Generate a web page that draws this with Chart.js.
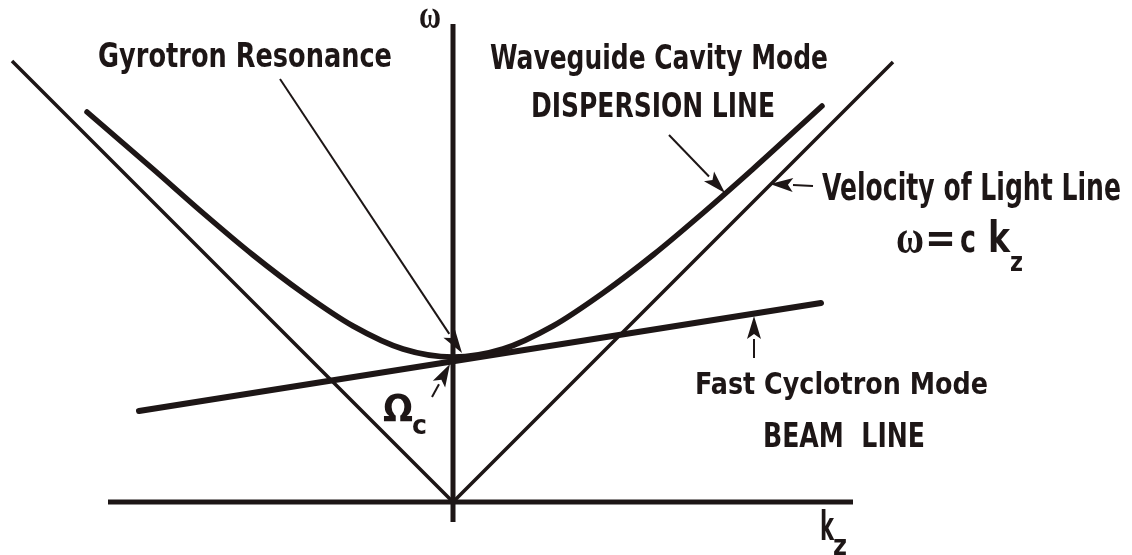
<!DOCTYPE html>
<html>
<head>
<meta charset="utf-8">
<script src="https://cdn.jsdelivr.net/npm/chart.js@4.4.1/dist/chart.umd.min.js"></script>
<style>
html,body{margin:0;padding:0;background:#fff;}
#wrap{width:1132px;height:555px;position:relative;}
</style>
</head>
<body>
<div id="wrap"><canvas id="c"></canvas></div>
<script>
// ---- data (units: 1 = 100 px, origin at the axes' crossing) ----
const waveguideK = [-3.66, -3.0, -2.5, -2.0, -1.5, -1.0, -0.5, 0.0, 0.5, 1.0, 1.5, 2.0, 2.5, 3.0, 3.69];
const waveguideW = [3.90, 3.33, 2.89, 2.47, 2.09, 1.76, 1.53, 1.45, 1.53, 1.76, 2.09, 2.47, 2.89, 3.33, 3.96];
const lightK = [-4.41, 0, 4.40];
const lightW = [4.41, 0, 4.40];
const beamK = [-3.14, 3.68];
const beamW = [0.91, 1.99];
const kAxisK = [-3.45, 4.00];
const kAxisW = [0, 0];
const wAxisK = [0, 0];
const wAxisW = [-0.20, 4.78];

const INK = '#1d1616';
const toPts = (xs, ys) => xs.map((x, i) => ({x: x, y: ys[i]}));

// arrows (tail -> tip), in data units
const arrows = [
  {from: [-1.73, 4.23], to: [0.09, 1.49]},   // Gyrotron Resonance
  {from: [-0.21, 1.05], to: [-0.03, 1.38]},  // Omega_c
  {from: [2.16, 3.67], to: [2.72, 3.09]},    // Dispersion line
  {from: [3.60, 3.16], to: [3.17, 3.18]},    // Velocity of light
  {from: [3.01, 1.44], to: [3.01, 1.86]}     // Beam line
];

// text boxes: left, baseline, target width, font
const SANS = '"Liberation Sans Narrow","DejaVu Sans Condensed","Liberation Sans",sans-serif';
const SERIF = '"Liberation Serif","DejaVu Serif",serif';
const labels = [
  {t: 'Gyrotron Resonance', x: 98, y: 67, w: 294, f: 'bold 33px ' + SANS},
  {t: 'Waveguide Cavity Mode', x: 490, y: 69, w: 338, f: 'bold 34px ' + SANS},
  {t: 'DISPERSION LINE', x: 531, y: 117, w: 244, f: 'bold 34px ' + SANS},
  {t: 'Velocity of Light Line', x: 822, y: 200, w: 299, f: 'bold 37px ' + SANS},
  {t: 'Fast Cyclotron Mode', x: 695, y: 394, w: 293, f: 'bold 31px ' + SANS},
  {t: 'BEAM  LINE', x: 763, y: 447, w: 162, f: 'bold 33px ' + SANS},
  {t: 'ω', x: 419, y: 28, w: 22, f: 'bold 40px ' + SERIF},
  {t: 'ω', x: 896, y: 253, w: 28, f: 'bold 46px ' + SERIF},
  {t: '=', x: 925, y: 252, w: 31, f: 'bold 40px ' + SANS},
  {t: 'c', x: 960, y: 252, w: 16, f: 'bold 38px ' + SANS},
  {t: 'k', x: 988, y: 252, w: 22, f: 'bold 42px ' + SANS},
  {t: 'z', x: 1010, y: 271, w: 13, f: 'bold 26px ' + SANS},
  {t: 'Ω', x: 383, y: 421, w: 30, f: 'bold 37px ' + SANS},
  {t: 'c', x: 412, y: 434, w: 15, f: 'bold 26px ' + SANS},
  {t: 'k', x: 820, y: 540, w: 14, f: 'bold 40px ' + SANS},
  {t: 'z', x: 833, y: 555, w: 14, f: 'bold 28px ' + SANS}
];

const annotate = {
  id: 'annotate',
  afterDatasetsDraw(chart) {
    const ctx = chart.ctx, sx = chart.scales.x, sy = chart.scales.y;
    ctx.save();
    ctx.fillStyle = INK; ctx.strokeStyle = INK;
    arrows.forEach(a => {
      const x1 = sx.getPixelForValue(a.from[0]), y1 = sy.getPixelForValue(a.from[1]);
      const x2 = sx.getPixelForValue(a.to[0]), y2 = sy.getPixelForValue(a.to[1]);
      const ang = Math.atan2(y2 - y1, x2 - x1);
      const L = 23, H = 7;
      const bx = x2 - L * Math.cos(ang), by = y2 - L * Math.sin(ang);
      ctx.lineWidth = 2;
      ctx.beginPath(); ctx.moveTo(x1, y1); ctx.lineTo(bx, by); ctx.stroke();
      ctx.beginPath();
      ctx.moveTo(x2, y2);
      ctx.lineTo(bx + H * Math.sin(ang), by - H * Math.cos(ang));
      ctx.lineTo(bx + 5 * Math.cos(ang), by + 5 * Math.sin(ang));
      ctx.lineTo(bx - H * Math.sin(ang), by + H * Math.cos(ang));
      ctx.closePath(); ctx.fill();
    });
    ctx.textBaseline = 'alphabetic'; ctx.textAlign = 'left';
    labels.forEach(l => {
      ctx.font = l.f;
      const m = ctx.measureText(l.t).width;
      ctx.save();
      ctx.translate(l.x, l.y);
      ctx.scale(l.w / m, 1);
      ctx.fillText(l.t, 0, 0);
      ctx.restore();
    });
    ctx.restore();
  }
};

const line = (data, width, extra) => Object.assign({
  data: data, showLine: true, borderColor: INK, backgroundColor: INK,
  borderWidth: width, pointRadius: 0, pointHoverRadius: 0, fill: false,
  clip: false, borderCapStyle: 'butt'
}, extra || {});

new Chart(document.getElementById('c'), {
  type: 'scatter',
  data: {
    datasets: [
      line(toPts(kAxisK, kAxisW), 5),
      line(toPts(wAxisK, wAxisW), 5),
      line(toPts(lightK, lightW), 3.5, {borderJoinStyle: 'miter'}),
      line(toPts(beamK, beamW), 6, {borderCapStyle: 'round'}),
      line(toPts(waveguideK, waveguideW), 5.5, {cubicInterpolationMode: 'monotone', borderCapStyle: 'round'})
    ]
  },
  options: {
    responsive: true, maintainAspectRatio: false, animation: false,
    devicePixelRatio: 1,
    layout: {padding: 0},
    plugins: {legend: {display: false}, tooltip: {enabled: false}},
    events: [],
    scales: {
      x: {type: 'linear', display: false, min: -4.53, max: 6.79},
      y: {type: 'linear', display: false, min: -0.53, max: 5.02}
    }
  },
  plugins: [annotate]
});
</script>
</body>
</html>
